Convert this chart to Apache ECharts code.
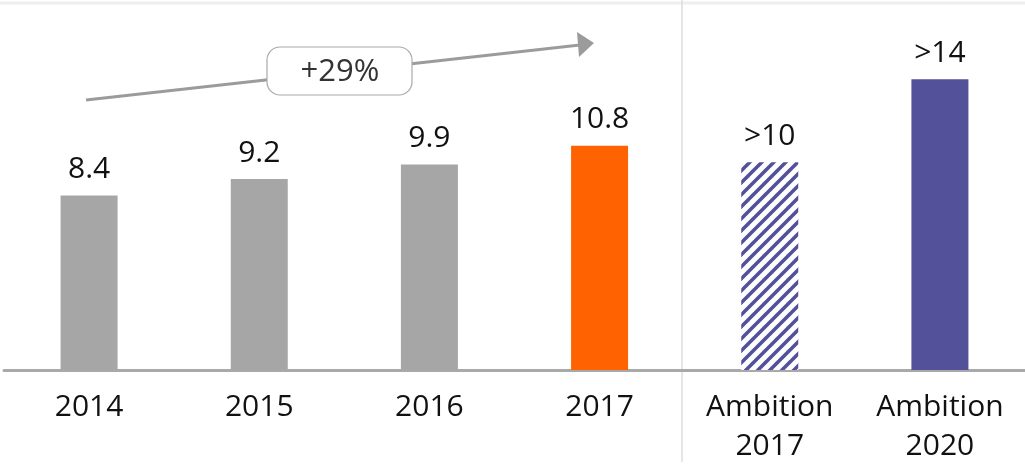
<!DOCTYPE html>
<html>
<head>
<meta charset="utf-8">
<script src="https://cdn.jsdelivr.net/npm/echarts@6/dist/echarts.min.js"></script>
<style>
  html, body { margin: 0; padding: 0; background: #fff; }
  #chart { width: 1025px; height: 468px; }
</style>
</head>
<body>
<div id="chart"></div>
<script>
// chart data
const categories = ["2014", "2015", "2016", "2017", "Ambition\n2017", "Ambition\n2020"];
const values = [8.4, 9.2, 9.9, 10.8, 10, 14];
const valueLabels = ["8.4", "9.2", "9.9", "10.8", ">10", ">14"];
const growthLabel = "+29%";

const FONT = "Open Sans";

// diagonal hatch for the 2017 ambition bar
function hatchPattern() {
  const c = document.createElement("canvas");
  c.width = 12;
  c.height = 12;
  const ctx = c.getContext("2d");
  ctx.fillStyle = "#ffffff";
  ctx.fillRect(0, 0, 12, 12);
  ctx.strokeStyle = "#525199";
  ctx.lineWidth = 3.6;
  ctx.beginPath();
  for (let k = -12; k <= 24; k += 12) {
    ctx.moveTo(k - 1, 13);
    ctx.lineTo(k + 13, -1);
  }
  ctx.stroke();
  return c;
}

const barColors = ["#a6a6a6", "#a6a6a6", "#a6a6a6", "#ff6200",
  { image: hatchPattern(), repeat: "repeat" }, "#525199"];

const chart = echarts.init(document.getElementById("chart"));

chart.setOption({
  animation: false,
  grid: { left: 4, right: 0, top: 17, bottom: 98, containLabel: false },
  xAxis: {
    type: "category",
    data: categories,
    axisLine: { show: true, lineStyle: { color: "#a9a9a9", width: 3 } },
    axisTick: { show: false },
    axisLabel: {
      color: "#111",
      fontFamily: FONT,
      fontSize: 30,
      lineHeight: 39,
      margin: 18,
      interval: 0
    }
  },
  yAxis: {
    type: "value",
    min: 0,
    max: 17,
    show: false
  },
  series: [
    {
      type: "bar",
      barWidth: 57,
      data: values.map((v, i) => ({ value: v, itemStyle: { color: barColors[i] } })),
      label: {
        show: true,
        position: "top",
        distance: 11,
        color: "#111",
        fontFamily: FONT,
        fontSize: 30,
        formatter: (p) => valueLabels[p.dataIndex]
      }
    }
  ],
  graphic: [
    // top rule
    { type: "line", silent: true, shape: { x1: 0, y1: 3, x2: 1025, y2: 3 },
      style: { stroke: "#eeeeee", lineWidth: 3 } },
    // separator between actuals and ambitions
    { type: "line", silent: true, shape: { x1: 682, y1: 0, x2: 682, y2: 462 },
      style: { stroke: "#dddddd", lineWidth: 1.5 } },
    // growth arrow
    { type: "line", silent: true, shape: { x1: 86, y1: 100, x2: 580, y2: 45 },
      style: { stroke: "#9b9b9b", lineWidth: 3 } },
    { type: "polygon", silent: true, shape: { points: [[577, 32], [594, 43], [579, 57]] },
      style: { fill: "#9b9b9b" } },
    { type: "rect", silent: true, shape: { x: 267, y: 47, width: 145, height: 48, r: 13 },
      style: { fill: "#fff", stroke: "#aaaaaa", lineWidth: 1.2 } },
    { type: "text", silent: true, x: 340, y: 72,
      style: { text: growthLabel, fill: "#333", font: "31px '" + FONT + "'",
        align: "center", verticalAlign: "middle" } }
  ]
});
</script>
</body>
</html>
